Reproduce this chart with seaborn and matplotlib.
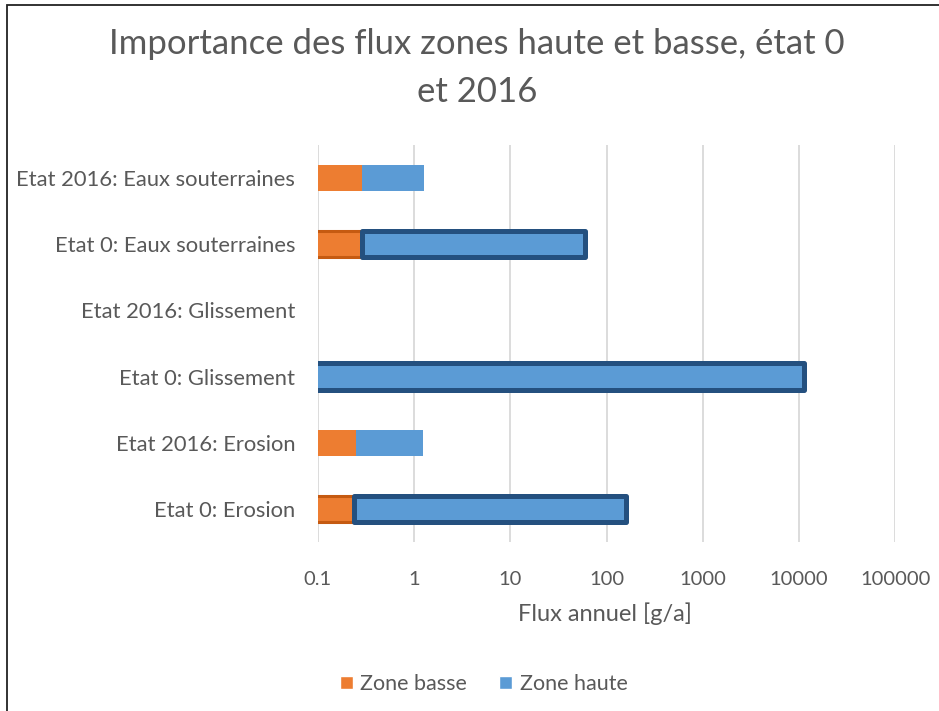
import numpy as np
import pandas as pd
import matplotlib
matplotlib.use("Agg")
import matplotlib.pyplot as plt
from matplotlib.patches import Rectangle, Patch
import seaborn as sns

# Annual fluxes [g/a], listed from the top row to the bottom row
categories = [
    "Etat 2016: Eaux souterraines",
    "Etat 0: Eaux souterraines",
    "Etat 2016: Glissement",
    "Etat 0: Glissement",
    "Etat 2016: Erosion",
    "Etat 0: Erosion",
]
zone_basse = [0.29, 0.29, 0.0, 0.0, 0.25, 0.24]
zone_haute = [1.0, 59.7, 0.0, 11300.0, 0.99, 160.0]
x_ticks = [0.1, 1, 10, 100, 1000, 10000, 100000]
x_tick_labels = ["0.1", "1", "10", "100", "1000", "10000", "100000"]

df = pd.DataFrame({"cat": categories, "basse": zone_basse, "haute": zone_haute})

ORANGE = "#ED7D31"
BLUE = "#5B9BD5"
ORANGE_EDGE = "#C55A11"
BLUE_EDGE = "#24507F"
TEXT = "#595959"
GRID = "#D9D9D9"

sns.set_theme(style="white")
plt.rcParams["font.family"] = ["Lato", "DejaVu Sans"]

fig = plt.figure(figsize=(9.39, 7.11), dpi=100)
ax = fig.add_axes([317.5 / 939, 1 - 542 / 711, 578 / 939, 397 / 711])

with np.errstate(divide="ignore", invalid="ignore"):
    sns.barplot(data=df, x="basse", y="cat", orient="h", color=ORANGE,
                width=0.4, saturation=1, log_scale=True, ax=ax, zorder=2)
basse_bars = ax.containers[0]

# Upper-zone segment stacked on the lower-zone one
ypos = np.arange(len(categories))
haute_bars = ax.barh(ypos, df["haute"], left=df["basse"], height=0.4,
                     color=BLUE, zorder=3)

# Reference state rows ("Etat 0") get a dark outline
for i, cat in enumerate(categories):
    ob, hb = basse_bars[i], haute_bars[i]
    ob.set_linewidth(0)
    hb.set_linewidth(0)
    if cat.startswith("Etat 0"):
        ob.set_edgecolor(ORANGE_EDGE)
        ob.set_linewidth(2.2)
        hb.set_edgecolor(BLUE_EDGE)
        hb.set_linewidth(3.6)
        hb.set_joinstyle("round")

ax.set_xscale("log")
ax.set_xlim(0.1, 100000)
ax.set_ylim(len(categories) - 0.5, -0.5)
ax.set_xticks(x_ticks)
ax.set_xticklabels(x_tick_labels)
ax.xaxis.set_minor_locator(matplotlib.ticker.NullLocator())
ax.grid(axis="x", color=GRID, linewidth=1.3, zorder=0)
ax.grid(axis="y", visible=False)
ax.set_axisbelow(True)
for s in ax.spines.values():
    s.set_visible(False)
ax.tick_params(axis="x", length=0, pad=21, labelsize=14.5, labelcolor=TEXT)
ax.tick_params(axis="y", length=0, pad=16, labelsize=15.8, labelcolor=TEXT)
ax.set_ylabel("")
ax.set_xlabel("Flux annuel [g/a]", fontsize=17, color=TEXT)
ax.xaxis.set_label_coords(0.497, -0.152)

fig.text(0.508, 1 - 28 / 711,
         "Importance des flux zones haute et basse, état 0\net 2016",
         ha="center", va="top", fontsize=25, color=TEXT, linespacing=1.62)

handles = [Patch(facecolor=ORANGE, label="Zone basse"),
           Patch(facecolor=BLUE, label="Zone haute")]
fig.legend(handles=handles, loc="center", bbox_to_anchor=(0.515, 1 - 684 / 711),
           ncol=2, frameon=False, fontsize=15.5, labelcolor=TEXT,
           handlelength=0.6, handleheight=0.6, handletextpad=0.35,
           columnspacing=1.5)

# Chart frame
fig.patches.append(Rectangle((7 / 939, -0.2), 1.2, 1 - 5 / 711 + 0.2,
                             transform=fig.transFigure, fill=False,
                             edgecolor="#222222", linewidth=1.3))

fig.savefig("out.png", dpi=100)
